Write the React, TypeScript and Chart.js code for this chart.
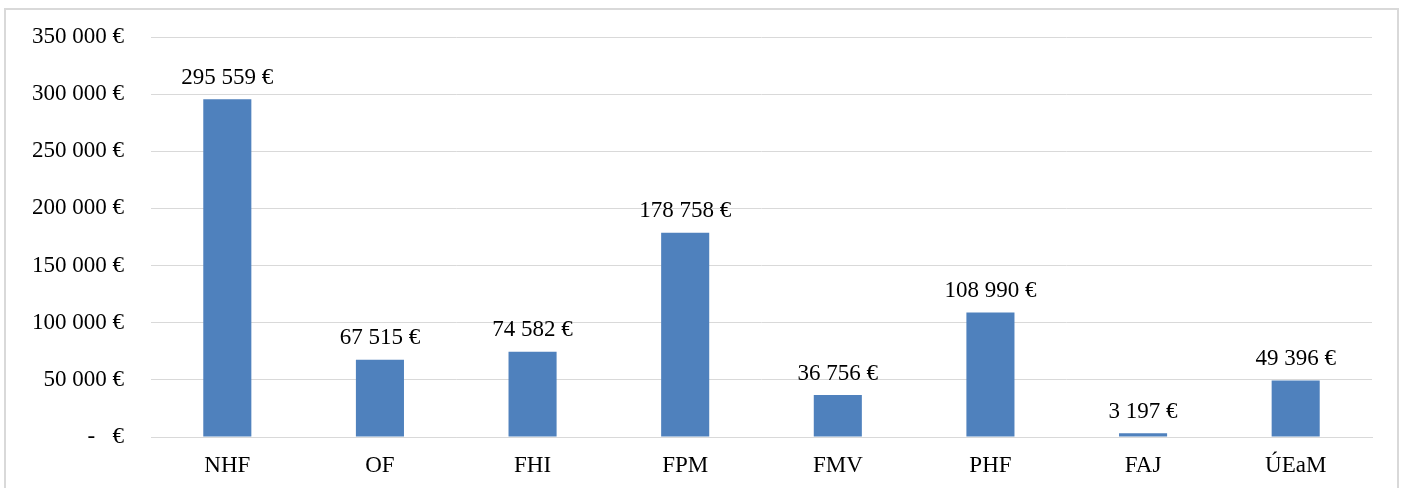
import React, { useEffect, useRef } from "react";
import { Chart, registerables } from "chart.js";

Chart.register(...registerables);

const categories = ["NHF", "OF", "FHI", "FPM", "FMV", "PHF", "FAJ", "ÚEaM"];
const values = [295559, 67515, 74582, 178758, 36756, 108990, 3197, 49396];
const yTicks = [0, 50000, 100000, 150000, 200000, 250000, 300000, 350000];

const FONT = "'Liberation Serif', 'Times New Roman', serif";
const FS = 23;

function fmt(v: number): string {
  if (v === 0) return "-   €";
  const s = Math.round(v).toString().replace(/\B(?=(\d{3})+(?!\d))/g, " ");
  return s + " €";
}

const labelPlugin = {
  id: "barLabels",
  afterDatasetsDraw(chart: any) {
    const ctx = chart.ctx;
    const meta = chart.getDatasetMeta(0);
    ctx.save();
    ctx.font = `${FS}px ${FONT}`;
    ctx.fillStyle = "#000";
    ctx.textAlign = "center";
    ctx.textBaseline = "bottom";
    meta.data.forEach((bar: any, i: number) => {
      ctx.fillText(fmt(values[i]), bar.x, bar.y - 10);
    });
    ctx.restore();
  },
};

export default function App() {
  const ref = useRef<HTMLCanvasElement | null>(null);
  useEffect(() => {
    if (!ref.current) return;
    const chart = new Chart(ref.current, {
      type: "bar",
      data: {
        labels: categories,
        datasets: [
          {
            data: values,
            backgroundColor: "#4F81BD",
            borderWidth: 0,
            categoryPercentage: 1,
            barPercentage: 0.315,
          },
        ],
      },
      options: {
        animation: false,
        responsive: false,
        maintainAspectRatio: false,
        layout: { padding: { top: 27, right: 25, left: 0, bottom: 0 } },
        plugins: { legend: { display: false }, tooltip: { enabled: false } },
        scales: {
          x: {
            grid: { display: false, drawTicks: false },
            border: { display: true, color: "#d9d9d9", width: 1 },
            ticks: { color: "#000", font: { family: FONT, size: FS }, padding: 15 },
            afterFit: (s: any) => {
              s.height = 59;
            },
          },
          y: {
            min: 0,
            max: 350000,
            afterBuildTicks: (s: any) => {
              s.ticks = yTicks.map((v) => ({ value: v }));
            },
            grid: { color: "#d9d9d9", lineWidth: 1, drawTicks: false },
            border: { display: false },
            ticks: {
              color: "#000",
              font: { family: FONT, size: FS },
              padding: 27,
              callback: (v: any) => fmt(Number(v)),
            },
            afterFit: (s: any) => {
              s.width = 145;
              s.paddingTop = 0;
              s.paddingBottom = 0;
            },
          },
        },
      },
      plugins: [labelPlugin],
    });
    return () => chart.destroy();
  }, []);
  return (
    <div
      style={{
        position: "absolute",
        left: 4,
        top: 8,
        width: 1395,
        height: 490,
        boxSizing: "border-box",
        border: "2px solid #d9d9d9",
        background: "#fff",
      }}
    >
      <canvas ref={ref} width={1391} height={486} style={{ display: "block" }} />
    </div>
  );
}
